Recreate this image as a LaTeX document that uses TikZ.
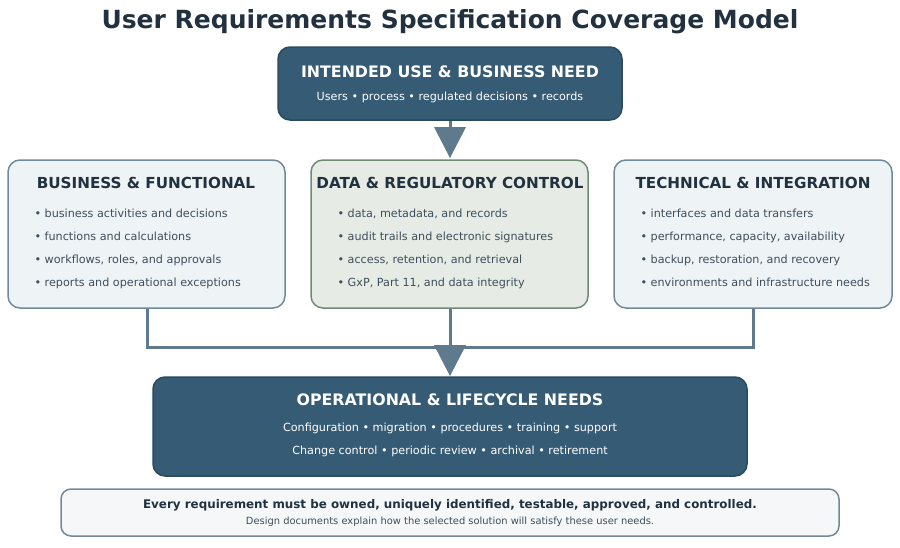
\documentclass[tikz,border=0pt]{standalone}
\usepackage{fontspec}
\setmainfont{DejaVu Sans}
\begin{document}
\definecolor{dark}{HTML}{365B74}
\definecolor{darkb}{HTML}{2A4A60}
\definecolor{conn}{HTML}{5E7A8C}
\definecolor{lfill}{HTML}{EEF3F6}
\definecolor{lbord}{HTML}{71899A}
\definecolor{gfill}{HTML}{E6ECE5}
\definecolor{gbord}{HTML}{708B75}
\definecolor{txt}{HTML}{22313F}
\definecolor{btxt}{HTML}{3E4E5C}
\begin{tikzpicture}[x=1pt,y=-1pt,
 dbox/.style={draw=darkb,line width=1.5pt,fill=dark,rounded corners=12pt},
 lbox/.style={draw=lbord,line width=1.5pt,fill=lfill,rounded corners=12pt},
 gbox/.style={draw=gbord,line width=1.5pt,fill=gfill,rounded corners=12pt},
 head/.style={font=\bfseries\fontsize{15.2}{18}\selectfont,text=txt},
 whead/.style={font=\bfseries\fontsize{15.8}{18}\selectfont,text=white},
 wsub/.style={text=white,font=\fontsize{11.2}{13}\selectfont},
 bul/.style={font=\fontsize{11.2}{23}\selectfont,text=btxt,align=left,anchor=north west},
 line/.style={draw=conn,line width=3pt},
 tri/.style={fill=conn}]
\useasboundingbox (0,0) rectangle (900,547);
\node[font=\bfseries\fontsize{25}{29}\selectfont,text=txt] (title) at (450,22) {User Requirements Specification Coverage Model};
\coordinate (lc) at (147,347); \coordinate (rc) at (753,347);
\draw[line] (147,300) -- (lc) -- (rc) -- (753,300);
\draw[line] (450,300) -- (450,350);
\draw[line] (450,115) -- (450,130);
\fill[tri] (434,127) -- (466,127) -- (450,158) -- cycle;
\fill[tri] (434,345) -- (466,345) -- (450,376) -- cycle;
\path[dbox] (278,47) rectangle (622,120);
\node[whead] (top) at (450,72) {INTENDED USE \& BUSINESS NEED};
\node[wsub] (topsub) at (450,97) {Users • process • regulated decisions • records};
\path[lbox] (8,160) rectangle (285,308);
\node[head] (bf) at (146,183) {BUSINESS \& FUNCTIONAL};
\node[bul] (bfl) at (31,205) {• business activities and decisions\\• functions and calculations\\• workflows, roles, and approvals\\• reports and operational exceptions};
\path[gbox] (311,160) rectangle (588,308);
\node[head] (dr) at (450,183) {DATA \& REGULATORY CONTROL};
\node[bul] (drl) at (334,205) {• data, metadata, and records\\• audit trails and electronic signatures\\• access, retention, and retrieval\\• GxP, Part 11, and data integrity};
\path[lbox] (614,160) rectangle (892,308);
\node[head] (ti) at (753,183) {TECHNICAL \& INTEGRATION};
\node[bul] (til) at (637,205) {• interfaces and data transfers\\• performance, capacity, availability\\• backup, restoration, and recovery\\• environments and infrastructure needs};
\path[dbox] (153,377) rectangle (747,476);
\node[whead] (op) at (450,400) {OPERATIONAL \& LIFECYCLE NEEDS};
\node[wsub] (op1) at (450,428) {Configuration • migration • procedures • training • support};
\node[wsub] (op2) at (450,451) {Change control • periodic review • archival • retirement};
\path[draw=lbord,line width=1.5pt,fill=black!3!lfill!40,rounded corners=10pt] (61,489) rectangle (839,536);
\node[font=\bfseries\fontsize{11.9}{14}\selectfont,text=txt] (f1) at (450,505) {Every requirement must be owned, uniquely identified, testable, approved, and controlled.};
\node[font=\fontsize{9.9}{11}\selectfont,text=btxt] (f2) at (450,522) {Design documents explain how the selected solution will satisfy these user needs.};
\end{tikzpicture}
\end{document}
